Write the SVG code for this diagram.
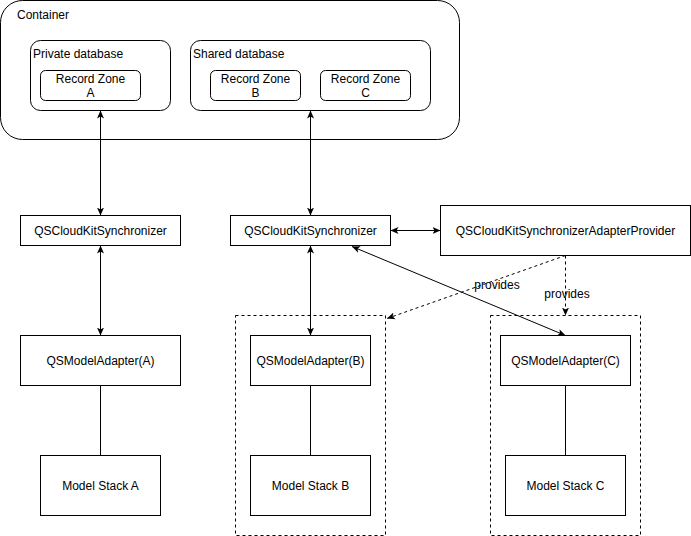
<svg xmlns="http://www.w3.org/2000/svg" width="691" height="536" viewBox="0 0 691 536">
<style>
.box{fill:#fff;stroke:#000;stroke-width:1}
.grp{fill:none;stroke:#000;stroke-width:1}
.dash{fill:none;stroke:#000;stroke-width:1;stroke-dasharray:3,3}
.t{font-family:"Liberation Sans",Arial,sans-serif;font-size:12px;fill:#000}
.c{text-anchor:middle}
.ln{fill:none;stroke:#000;stroke-width:1}
</style>
<defs>
<marker id="ah" viewBox="0 0 8 8" refX="8" refY="4" markerWidth="8" markerHeight="8" markerUnits="userSpaceOnUse" orient="auto-start-reverse">
<path d="M0,0.5 L8,4 L0,7.5 L2,4 Z" fill="#000"/>
</marker>
</defs>
<rect width="691" height="536" fill="#fff"/>
<g id="container">
<rect class="grp" x="0.5" y="0.5" width="459" height="139" rx="22"/>
<text class="t" x="17" y="19">Container</text>
</g>
<g id="private-db">
<rect class="grp" x="30.5" y="40.5" width="140" height="70" rx="10"/>
<text class="t" x="33" y="58">Private database</text>
</g>
<g id="zone-a">
<rect class="box" x="40.5" y="70.5" width="100" height="30" rx="5"/>
<text class="t c" x="90.5" y="83">Record Zone</text>
<text class="t c" x="90.5" y="97">A</text>
</g>
<g id="shared-db">
<rect class="grp" x="190.5" y="40.5" width="240" height="70" rx="10"/>
<text class="t" x="193" y="58">Shared database</text>
</g>
<g id="zone-b">
<rect class="box" x="210.5" y="70.5" width="90" height="30" rx="5"/>
<text class="t c" x="255.5" y="83">Record Zone</text>
<text class="t c" x="255.5" y="97">B</text>
</g>
<g id="zone-c">
<rect class="box" x="320.5" y="70.5" width="90" height="30" rx="5"/>
<text class="t c" x="365.5" y="83">Record Zone</text>
<text class="t c" x="365.5" y="97">C</text>
</g>
<g id="group-b"><rect class="dash" x="235.5" y="315.5" width="150" height="220"/></g>
<g id="group-c"><rect class="dash" x="490.5" y="315.5" width="150" height="220"/></g>
<g id="sync-a">
<rect class="box" x="20.5" y="215.5" width="160" height="30"/>
<text class="t c" x="100.5" y="234.5">QSCloudKitSynchronizer</text>
</g>
<g id="sync-b">
<rect class="box" x="230.5" y="215.5" width="160" height="30"/>
<text class="t c" x="310.5" y="234.5">QSCloudKitSynchronizer</text>
</g>
<g id="provider">
<rect class="box" x="440.5" y="205.5" width="250" height="50"/>
<text class="t c" x="565.5" y="234.5">QSCloudKitSynchronizerAdapterProvider</text>
</g>
<g id="adapter-a">
<rect class="box" x="20.5" y="335.5" width="160" height="50"/>
<text class="t c" x="100.5" y="364.5">QSModelAdapter(A)</text>
</g>
<g id="adapter-b">
<rect class="box" x="250.5" y="335.5" width="120" height="50"/>
<text class="t c" x="310.5" y="364.5">QSModelAdapter(B)</text>
</g>
<g id="adapter-c">
<rect class="box" x="500.5" y="335.5" width="130" height="50"/>
<text class="t c" x="565.5" y="364.5">QSModelAdapter(C)</text>
</g>
<g id="stack-a">
<rect class="box" x="40.5" y="455.5" width="120" height="60"/>
<text class="t c" x="100.5" y="489.5">Model Stack A</text>
</g>
<g id="stack-b">
<rect class="box" x="250.5" y="455.5" width="120" height="60"/>
<text class="t c" x="310.5" y="489.5">Model Stack B</text>
</g>
<g id="stack-c">
<rect class="box" x="505.5" y="455.5" width="120" height="60"/>
<text class="t c" x="565.5" y="489.5">Model Stack C</text>
</g>
<g id="connectors">
<line class="ln" x1="100.5" y1="110.5" x2="100.5" y2="215.5" marker-start="url(#ah)" marker-end="url(#ah)"/>
<line class="ln" x1="310.5" y1="110.5" x2="310.5" y2="215.5" marker-start="url(#ah)" marker-end="url(#ah)"/>
<line class="ln" x1="100.5" y1="245.5" x2="100.5" y2="335.5" marker-start="url(#ah)" marker-end="url(#ah)"/>
<line class="ln" x1="310.5" y1="245.5" x2="310.5" y2="335.5" marker-start="url(#ah)" marker-end="url(#ah)"/>
<line class="ln" x1="390.5" y1="230.5" x2="440.5" y2="230.5" marker-start="url(#ah)" marker-end="url(#ah)"/>
<line class="ln" x1="352" y1="246.5" x2="565.5" y2="335.5" marker-start="url(#ah)" marker-end="url(#ah)"/>
<line class="dash" x1="565.5" y1="255.5" x2="565.5" y2="315.5" marker-end="url(#ah)"/>
<line class="dash" x1="565.5" y1="255.5" x2="387" y2="318.5" marker-end="url(#ah)"/>
<line class="ln" x1="100.5" y1="385.5" x2="100.5" y2="455.5"/>
<line class="ln" x1="310.5" y1="385.5" x2="310.5" y2="455.5"/>
<line class="ln" x1="565.5" y1="385.5" x2="565.5" y2="455.5"/>
<text class="t c" x="497" y="289">provides</text>
<text class="t c" x="567" y="298">provides</text>
</g>
</svg>
